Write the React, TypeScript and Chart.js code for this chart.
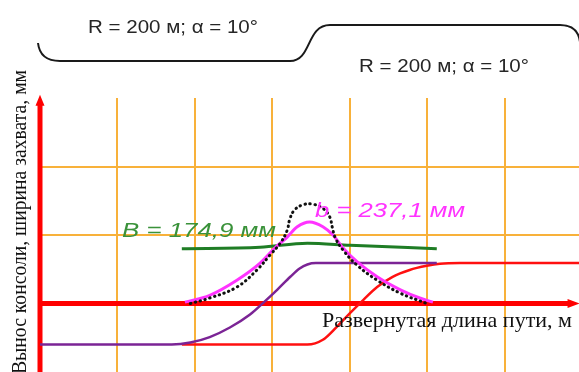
import { useEffect, useRef } from 'react';
import { Chart, registerables } from 'chart.js';

Chart.register(...registerables);

// Axis ranges (grid units)
const X_MIN = 0;
const X_MAX = 6.955;
const Y_MIN = -1;
const Y_MAX = 3;
const GRID_X = [1, 2, 3, 4, 5, 6];
const GRID_Y = [1, 2];

// Purple: cantilever offset (first transition)
const purpleX = [0, 1.7, 1.94, 2.19, 2.45, 2.71, 2.88, 3.06, 3.23, 3.35, 3.45, 3.56, 5.12];
const purpleY = [-0.6, -0.6, -0.57, -0.49, -0.35, -0.16, 0.01, 0.2, 0.39, 0.51, 0.57, 0.59, 0.59];

// Red thin: second transition
const redX = [1.83, 3.45, 3.65, 3.83, 4.0, 4.17, 4.35, 4.55, 4.77, 4.99, 5.16, 5.42, 6.955];
const redY = [-0.6, -0.6, -0.53, -0.34, -0.14, 0.05, 0.24, 0.39, 0.49, 0.55, 0.58, 0.59, 0.59];

// Magenta bell: b = 237,1 mm
const magX = [1.87, 2.19, 2.54, 2.84, 3.03, 3.19, 3.32, 3.48, 3.65, 3.78, 3.91, 4.09, 4.35, 4.65, 4.9, 5.07];
const magY = [0.02, 0.12, 0.34, 0.59, 0.81, 0.97, 1.12, 1.19, 1.12, 1.0, 0.81, 0.61, 0.39, 0.2, 0.08, 0.02];

// Black dotted
const dotX = [1.94, 2.19, 2.54, 2.8, 2.97, 3.1, 3.19, 3.22, 3.28, 3.39, 3.52, 3.66, 3.74, 3.77, 3.81, 3.91, 4.09, 4.35, 4.65, 4.99];
const dotY = [0.0, 0.08, 0.24, 0.49, 0.71, 0.88, 1.07, 1.22, 1.36, 1.44, 1.45, 1.38, 1.26, 1.12, 0.96, 0.78, 0.56, 0.34, 0.15, 0.0];

// Green: B = 174,9 mm
const greenX = [1.83, 2.84, 3.45, 4.0, 5.12];
const greenY = [0.8, 0.82, 0.88, 0.85, 0.8];

// Axes lines
const xAxisX = [0, 6.82];
const xAxisY = [0, 0];
const yAxisX = [0, 0];
const yAxisY = [-1, 2.9];

// Labels
const topLabel = 'R = 200 м; α = 10°';
const bigBLabel = 'B = 174,9 мм';
const smallBLabel = 'b = 237,1 мм';
const xTitle = 'Развернутая длина пути, м';
const yTitle = 'Вынос консоли, ширина захвата, мм';

const pts = (xs: number[], ys: number[]) => xs.map((x, i) => ({ x, y: ys[i] }));

function fitText(
  ctx: CanvasRenderingContext2D,
  text: string,
  font: string,
  color: string,
  x: number,
  y: number,
  width: number,
  rotate = false
) {
  ctx.save();
  ctx.font = font;
  ctx.fillStyle = color;
  ctx.textBaseline = 'alphabetic';
  ctx.textAlign = 'left';
  const m = ctx.measureText(text).width;
  ctx.translate(x, y);
  if (rotate) ctx.rotate(-Math.PI / 2);
  ctx.scale(width / m, 1);
  ctx.fillText(text, 0, 0);
  ctx.restore();
}

const decorPlugin = {
  id: 'decor',
  afterDraw(chart: any) {
    const ctx: CanvasRenderingContext2D = chart.ctx;
    const xs = chart.scales.x;
    const ys = chart.scales.y;

    // arrowheads
    ctx.save();
    ctx.fillStyle = '#ff0000';
    const ax = xs.getPixelForValue(xAxisX[1]);
    const ay = ys.getPixelForValue(0);
    ctx.beginPath();
    ctx.moveTo(ax - 1, ay - 4.5);
    ctx.lineTo(ax + 11, ay);
    ctx.lineTo(ax - 1, ay + 4.5);
    ctx.closePath();
    ctx.fill();
    const bx = xs.getPixelForValue(0);
    const by = ys.getPixelForValue(yAxisY[1]);
    ctx.beginPath();
    ctx.moveTo(bx - 4.5, by + 1);
    ctx.lineTo(bx, by - 10);
    ctx.lineTo(bx + 4.5, by + 1);
    ctx.closePath();
    ctx.fill();
    ctx.restore();

    // bracket
    ctx.save();
    ctx.strokeStyle = '#1a1a1a';
    ctx.lineWidth = 2;
    ctx.beginPath();
    ctx.moveTo(38, 43);
    ctx.quadraticCurveTo(40, 61, 60, 61);
    ctx.lineTo(290, 61);
    ctx.bezierCurveTo(312, 61, 306, 25, 330, 25);
    ctx.lineTo(560, 25);
    ctx.quadraticCurveTo(578, 25, 580, 42);
    ctx.stroke();
    ctx.restore();

    // texts
    fitText(ctx, topLabel, '19px "Liberation Sans", Arial, sans-serif', '#262626', 88, 33, 170);
    fitText(ctx, topLabel, '19px "Liberation Sans", Arial, sans-serif', '#262626', 359, 72, 170);
    fitText(ctx, bigBLabel, 'italic 20px "Liberation Sans", Arial, sans-serif', '#3a923a', 122, 237, 154);
    fitText(ctx, smallBLabel, 'italic 20px "Liberation Sans", Arial, sans-serif', '#ff33ff', 315, 217, 150);
    fitText(ctx, xTitle, '21px "Liberation Serif", "Times New Roman", serif', '#111111', 322, 327, 250);
    fitText(ctx, yTitle, '20px "Liberation Serif", "Times New Roman", serif', '#111111', 26, 374, 304, true);
  },
};

const ORANGE = '#f8b13a';

export default function App() {
  const ref = useRef<HTMLCanvasElement>(null);
  useEffect(() => {
    const line = (data: any, color: string, width: number, extra: any = {}) => ({
      data,
      borderColor: color,
      backgroundColor: color,
      borderWidth: width,
      pointRadius: 0,
      fill: false,
      clip: false,
      ...extra,
    });
    const chart = new Chart(ref.current!, {
      type: 'line',
      data: {
        datasets: [
          line(pts(dotX, dotY), '#111111', 3, { borderDash: [0.5, 4.5], borderCapStyle: 'round', tension: 0.4 }),
          line(pts(magX, magY), '#ff33ff', 3, { cubicInterpolationMode: 'monotone' }),
          line(pts(greenX, greenY), '#1f7d25', 3, { cubicInterpolationMode: 'monotone' }),
          line(pts(purpleX, purpleY), '#7b2495', 2.5, { cubicInterpolationMode: 'monotone' }),
          line(pts(redX, redY), '#ff1010', 2.5, { cubicInterpolationMode: 'monotone' }),
          line(pts(xAxisX, xAxisY), '#ff0000', 5),
          line(pts(yAxisX, yAxisY), '#ff0000', 5),
        ] as any,
      },
      options: {
        responsive: false,
        animation: false,
        devicePixelRatio: 1,
        events: [],
        layout: { padding: { left: 40, top: 98, right: 0, bottom: 0 } },
        plugins: { legend: { display: false }, tooltip: { enabled: false } },
        scales: {
          x: {
            type: 'linear',
            min: X_MIN,
            max: X_MAX,
            afterFit: (s: any) => {
              s.height = 0;
            },
            border: { display: false },
            ticks: { display: false, stepSize: 1, includeBounds: false } as any,
            grid: {
              drawTicks: false,
              lineWidth: 2,
              color: (c: any) => (GRID_X.includes(c.tick?.value) ? ORANGE : 'rgba(0,0,0,0)'),
            },
          },
          y: {
            type: 'linear',
            min: Y_MIN,
            max: Y_MAX,
            afterFit: (s: any) => {
              s.width = 0;
            },
            border: { display: false },
            ticks: { display: false, stepSize: 1, includeBounds: false } as any,
            grid: {
              drawTicks: false,
              lineWidth: 2,
              color: (c: any) => (GRID_Y.includes(c.tick?.value) ? ORANGE : 'rgba(0,0,0,0)'),
            },
          },
        },
      } as any,
      plugins: [decorPlugin],
    });
    return () => chart.destroy();
  }, []);
  return (
    <div style={{ position: 'absolute', left: 0, top: 0, width: 579, height: 372, background: '#ffffff', overflow: 'hidden' }}>
      <canvas ref={ref} width={579} height={372} style={{ display: 'block' }} />
    </div>
  );
}
